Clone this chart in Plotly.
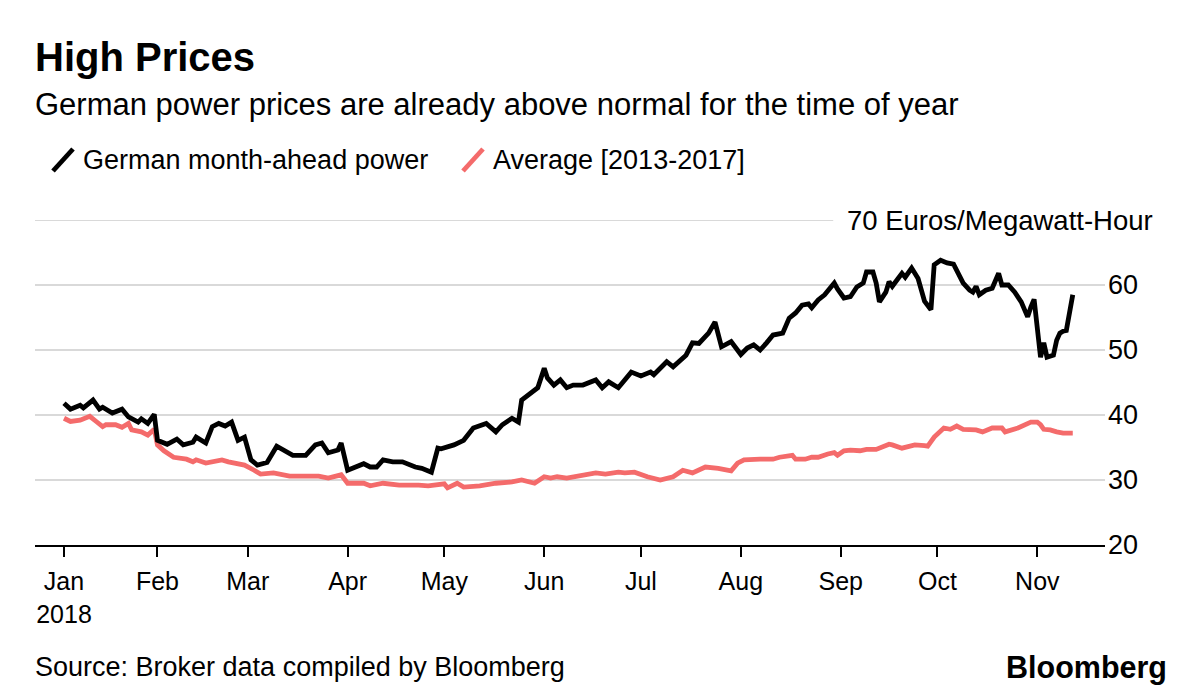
import plotly.graph_objects as go

# ---- data ----
german_dates = [
    "01-03","01-05","01-08","01-09","01-12","01-14","01-15","01-18","01-21","01-23",
    "01-26","01-27","01-29","01-31","02-01","02-04","02-07","02-09","02-12","02-13",
    "02-16","02-18","02-20","02-22","02-24","02-26","02-28","03-02","03-04","03-07",
    "03-10","03-15","03-19","03-22","03-24","03-26","03-29","03-30","04-01","04-04",
    "04-06","04-08","04-10","04-12","04-15","04-18","04-22","04-24","04-27","04-29",
    "04-30","05-04","05-07","05-10","05-14","05-17","05-19","05-22","05-24","05-25",
    "05-28","05-30","06-01","06-02","06-04","06-06","06-08","06-10","06-13","06-17",
    "06-19","06-21","06-24","06-28","07-01","07-04","07-05","07-09","07-11","07-14",
    "07-15","07-17","07-19","07-22","07-24","07-26","07-29","08-01","08-03","08-05",
    "08-07","08-09","08-11","08-14","08-16","08-18","08-20","08-22","08-23","08-25",
    "08-27","08-30","08-31","09-02","09-04","09-06","09-08","09-09","09-11","09-12",
    "09-13","09-15","09-16","09-17","09-19","09-20","09-21","09-23","09-25","09-27",
    "09-29","09-30","10-02","10-04","10-06","10-09","10-11","10-12","10-13","10-14",
    "10-16","10-18","10-20","10-21","10-23","10-25","10-27","10-29","10-30","10-31",
    "11-02","11-03","11-04","11-06","11-07","11-08","11-09","11-10","11-12",
]
german_values = [
    41.8, 40.9, 41.5, 41.1, 42.3, 40.9, 41.2, 40.3, 40.9, 39.7,
    38.9, 39.4, 38.7, 40.1, 36.1, 35.5, 36.3, 35.4, 35.8, 36.6,
    35.7, 38.2, 38.7, 38.3, 38.9, 36.1, 36.6, 33.1, 32.3, 32.7,
    35.2, 33.8, 33.8, 35.4, 35.7, 34.2, 34.6, 35.7, 31.5, 32.2,
    32.5, 32.0, 32.0, 33.1, 32.8, 32.8, 32.0, 31.8, 31.2, 34.9,
    34.8, 35.4, 36.1, 38.0, 38.7, 37.4, 38.5, 39.5, 38.9, 42.3,
    43.5, 44.2, 47.2, 45.7, 44.6, 45.4, 44.2, 44.6, 44.6, 45.4,
    44.2, 45.1, 44.2, 46.6, 46.0, 46.6, 46.2, 48.2, 47.4, 48.9,
    49.2, 51.1, 51.0, 52.6, 54.3, 50.5, 51.3, 49.3, 50.3, 50.8,
    50.0, 51.1, 52.3, 52.6, 54.9, 55.7, 56.9, 57.1, 56.5, 57.7,
    58.5, 60.3, 59.4, 58.0, 58.2, 59.7, 60.3, 62.0, 62.0, 60.3,
    57.4, 58.9, 60.5, 59.8, 61.2, 61.8, 61.2, 62.6, 61.0, 57.5,
    56.2, 63.1, 63.8, 63.4, 63.2, 60.3, 59.2, 58.9, 59.8, 58.5,
    59.2, 59.5, 61.8, 60.0, 60.0, 58.9, 57.4, 55.1, 56.6, 57.8,
    48.9, 51.1, 48.9, 49.2, 51.5, 52.6, 52.9, 53.0, 58.5,
]

average_dates = [
    "01-03","01-05","01-08","01-11","01-13","01-15","01-16","01-19","01-21","01-23",
    "01-24","01-27","01-29","01-31","02-01","02-03","02-06","02-10","02-12","02-13",
    "02-16","02-19","02-21","02-23","02-26","02-28","03-03","03-05","03-09","03-14",
    "03-23","03-26","03-30","04-01","04-06","04-08","04-12","04-17","04-23","04-26",
    "05-01","05-02","05-05","05-07","05-12","05-17","05-22","05-25","05-29","06-01",
    "06-03","06-05","06-08","06-12","06-17","06-20","06-24","06-26","06-29","07-03",
    "07-07","07-11","07-14","07-17","07-21","07-25","07-29","07-31","08-02","08-07",
    "08-11","08-13","08-17","08-18","08-21","08-23","08-25","08-28","08-30","08-31",
    "09-02","09-04","09-07","09-09","09-12","09-16","09-17","09-20","09-24","09-27",
    "09-28","09-30","10-03","10-05","10-07","10-09","10-13","10-15","10-18","10-21",
    "10-22","10-26","10-28","10-30","11-01","11-02","11-03","11-05","11-07","11-09",
    "11-12",
]
average_values = [
    39.5, 39.0, 39.2, 39.8, 39.0, 38.2, 38.5, 38.5, 38.1, 38.7,
    37.7, 37.4, 36.9, 37.8, 35.4, 34.5, 33.5, 33.2, 32.8, 33.1,
    32.6, 32.9, 33.1, 32.8, 32.6, 32.3, 31.5, 30.9, 31.1, 30.6,
    30.6, 30.3, 30.8, 29.5, 29.5, 29.1, 29.5, 29.2, 29.2, 29.1,
    29.4, 28.8, 29.5, 28.9, 29.1, 29.5, 29.7, 30.0, 29.5, 30.5,
    30.3, 30.5, 30.3, 30.6, 31.1, 30.9, 31.2, 31.1, 31.2, 30.5,
    30.0, 30.5, 31.5, 31.1, 32.0, 31.8, 31.4, 32.6, 33.1, 33.2,
    33.2, 33.5, 33.8, 33.2, 33.2, 33.5, 33.5, 34.0, 34.2, 33.8,
    34.5, 34.6, 34.5, 34.7, 34.7, 35.5, 35.4, 34.9, 35.4, 35.3,
    35.2, 36.6, 38.0, 37.8, 38.3, 37.8, 37.7, 37.4, 38.0, 38.0,
    37.4, 38.0, 38.5, 38.9, 38.9, 38.5, 37.8, 37.7, 37.4, 37.2,
    37.2,
]

year = "2018"
tick_dates = ["01-03", "02-01", "03-01", "04-01", "05-01", "06-01",
              "07-01", "08-01", "09-01", "10-01", "11-01"]
tick_labels = ["Jan<br>2018", "Feb", "Mar", "Apr", "May", "Jun",
               "Jul", "Aug", "Sep", "Oct", "Nov"]
y_ticks = [20, 30, 40, 50, 60]
y_top = 70
x_range = ["2017-12-25", "2018-11-22"]

series_names = ["German month-ahead power", "Average [2013-2017]"]
BLACK = "#000000"
RED = "#f46b6b"
FONT = "Liberation Sans, Arial, sans-serif"

def full(d):
    return [f"{year}-{s}" for s in d]

fig = go.Figure()
fig.add_trace(go.Scatter(x=full(average_dates), y=average_values, mode="lines",
                         line=dict(color=RED, width=4.8), name=series_names[1],
                         showlegend=False))
fig.add_trace(go.Scatter(x=full(german_dates), y=german_values, mode="lines",
                         line=dict(color=BLACK, width=4.8), name=series_names[0],
                         showlegend=False))

# top gridline (70) stops before the unit label
fig.add_shape(type="line", xref="paper", yref="y", x0=0, x1=0.746, y0=y_top, y1=y_top,
              line=dict(color="#d9d9d9", width=2), layer="below")

# page body has an 8px margin, so the figure is shifted accordingly
fig.update_layout(
    width=1192, height=692,
    margin=dict(l=27, r=95, t=212, b=155),
    paper_bgcolor="white", plot_bgcolor="white",
    font=dict(family=FONT, color="black", size=25),
    xaxis=dict(
        type="date", range=x_range,
        tickvals=full(tick_dates), ticktext=tick_labels,
        showgrid=False, showline=True, linecolor="black", linewidth=2,
        ticks="outside", ticklen=10, tickwidth=1.5, tickcolor="black",
        tickfont=dict(size=25), ticklabelstandoff=3,
        zeroline=False,
    ),
    yaxis=dict(
        side="right", range=[20, y_top], tickvals=y_ticks,
        showgrid=True, gridcolor="#d9d9d9", gridwidth=2,
        showline=False, zeroline=False, ticks="",
        tickfont=dict(size=27), ticklabelstandoff=2,
    ),
)

def py(p):
    return (545 - p) / 325

def px(p):
    return (p - 35) / 1070

ann = [
    dict(text="<b>High Prices</b>", x=px(33), y=py(57), size=40, anchor="left"),
    dict(text="German power prices are already above normal for the time of year",
         x=px(33), y=py(104), size=31, anchor="left"),
    dict(text=series_names[0], x=px(81), y=py(160), size=27, anchor="left"),
    dict(text=series_names[1], x=px(491), y=py(160), size=27, anchor="left"),
    dict(text="70 Euros/Megawatt-Hour", x=px(1155), y=py(220), size=27.5, anchor="right"),
    dict(text="Source: Broker data compiled by Bloomberg", x=px(33), y=py(667), size=27, anchor="left"),
    dict(text="<b>Bloomberg</b>", x=px(1169), y=py(667), size=30.5, anchor="right"),
]
for a in ann:
    fig.add_annotation(text=a["text"], xref="paper", yref="paper", x=a["x"], y=a["y"],
                       xanchor=a["anchor"], yanchor="middle", showarrow=False,
                       font=dict(size=a["size"], family=FONT, color="black"))

# legend slash icons
for x0, color in [(53, BLACK), (463, RED)]:
    fig.add_shape(type="line", xref="paper", yref="paper",
                  x0=px(x0), y0=py(171), x1=px(x0 + 20), y1=py(149),
                  line=dict(color=color, width=4.8))

fig.write_html("out.html")
